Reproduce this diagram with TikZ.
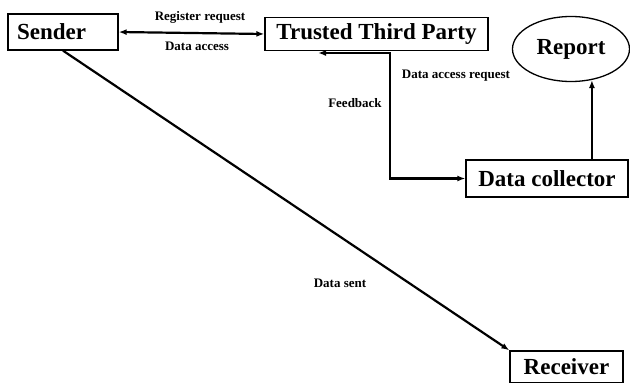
\documentclass[tikz,border=0pt]{standalone}
\usepackage{fontspec}
\setmainfont{Liberation Serif}
\usetikzlibrary{arrows.meta,shapes}

\begin{document}
\begin{tikzpicture}[x=1pt,y=-1pt,link/.style={line width=2.2pt},>={Latex[length=8pt,width=6pt]},box/.style={draw, line width=1.3pt, minimum height=33pt, inner xsep=8pt, font=\fontsize{23}{24}\selectfont\bfseries},lbl/.style={font=\fontsize{13}{14}\selectfont\bfseries, inner sep=1pt}]
\useasboundingbox (0,0) rectangle (630,383);
\node[box, minimum height=36pt, text width=92pt, inner xsep=9pt, align=left](sender) at (63,32) {Sender};
\node[box, minimum width=223pt](ttp) at (376.5,34) {Trusted Third Party};
\node[draw, line width=1.3pt, shape=ellipse, minimum width=117pt, minimum height=65pt, inner sep=0pt, font=\fontsize{23}{24}\selectfont\bfseries](report) at (571,49) {Report};
\node[box, minimum width=162pt, minimum height=37pt](collector) at (547,178.5) {Data collector};
\node[box, minimum width=113pt, minimum height=32pt](receiver) at (566.5,367) {Receiver};
\coordinate(fb) at (318,53);
\coordinate(turn) at (390,53);
\draw[link, <->] (sender.east) -- (ttp.west);
\draw[link, <->] (fb) -- (turn) |- (collector.west);
\draw[link, ->] (collector.north -| report.-56) -- (report.-56);
\draw[link, ->] (sender.south) -- (receiver.north west);
\node[lbl](regreq) at (200,17) {Register request};
\node[lbl](dataacc) at (197,46) {Data access};
\node[lbl](feedback) at (355,103) {Feedback};
\node[lbl](accreq) at (456,76) {Data access request};
\node[lbl](sent) at (340,283) {Data sent};
\end{tikzpicture}
\end{document}
